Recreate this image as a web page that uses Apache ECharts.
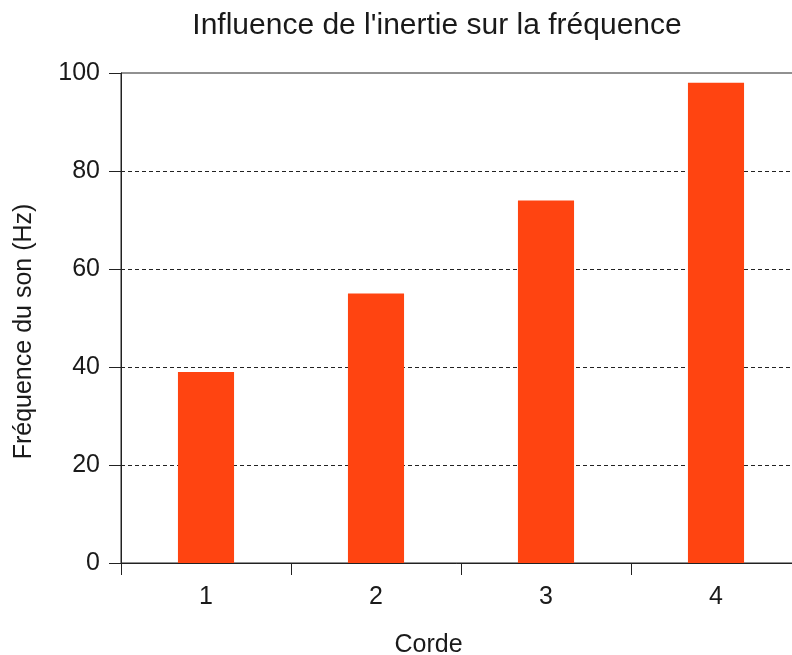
<!DOCTYPE html>
<html>
<head>
<meta charset="utf-8">
<script src="https://cdn.jsdelivr.net/npm/echarts@6/dist/echarts.min.js"></script>
<style>
  html, body { margin: 0; padding: 0; background: #fff; }
  #chart { width: 792px; height: 655px; }
</style>
</head>
<body>
<div id="chart"></div>
<script>
// données du graphique
const cordes = ["1", "2", "3", "4"];
const frequences = [39, 55, 74, 98];

const chart = echarts.init(document.getElementById("chart"));

const option = {
  animation: false,
  textStyle: { fontFamily: "Liberation Sans" },
  title: {
    text: "Influence de l'inertie sur la fréquence",
    left: 432,
    top: 6,
    textAlign: "center",
    textStyle: { fontSize: 30, fontWeight: "normal", color: "#1a1a1a" },
  },
  grid: {
    left: 121,
    top: 73,
    width: 680,
    height: 490,
    outerBoundsMode: "none",
    containLabel: false,
    show: true,
    borderColor: "#222",
    borderWidth: 1,
    backgroundColor: "transparent",
  },
  xAxis: {
    type: "category",
    data: cordes,
    name: "Corde",
    nameLocation: "middle",
    nameGap: 70,
    nameTextStyle: { fontSize: 25, color: "#1a1a1a", padding: [0, 65, 0, 0] },
    axisLine: { lineStyle: { color: "#222", width: 1 } },
    axisTick: { show: true, length: 12, interval: 0, lineStyle: { color: "#222" } },
    axisLabel: { fontSize: 25, color: "#1a1a1a", margin: 22 },
  },
  yAxis: {
    type: "value",
    min: 0,
    max: 100,
    interval: 20,
    name: "Fréquence du son (Hz)",
    nameLocation: "middle",
    nameGap: 84,
    nameTextStyle: { fontSize: 25, color: "#1a1a1a", padding: [0, 27, 0, 0] },
    axisLine: { show: true, lineStyle: { color: "#222", width: 1 } },
    axisTick: { show: true, length: 12, lineStyle: { color: "#222" } },
    axisLabel: { fontSize: 25, color: "#1a1a1a", margin: 21 },
    splitLine: {
      show: true,
      showMinLine: false,
      showMaxLine: false,
      lineStyle: { color: "#222", type: [4, 3], width: 1 },
    },
  },
  series: [
    {
      type: "bar",
      data: frequences,
      barWidth: "33%",
      itemStyle: { color: "#ff4411" },
    },
  ],
};

chart.setOption(option);
</script>
</body>
</html>
